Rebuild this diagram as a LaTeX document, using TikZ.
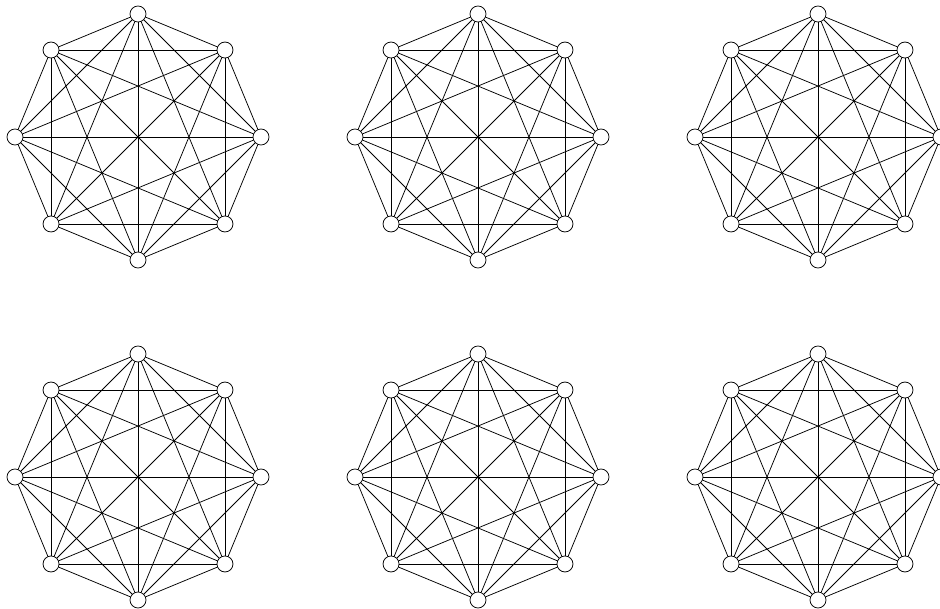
\documentclass[tikz,border=0pt]{standalone}
\begin{document}
\begin{tikzpicture}[x=1pt,y=-1pt,
  vtx/.style={circle,draw,fill=white,minimum size=16pt,inner sep=0pt,line width=0.75pt},
  edgeline/.style={line width=0.75pt}]
\useasboundingbox (0,0) rectangle (940,609);
\clip (0,0) rectangle (940,609);
\foreach \cx/\cy/\g in {138/137/a,478/137/b,818/137/c,138/477/d,478/477/e,818/477/f}{
  \foreach \i in {0,...,7}{
    \node[vtx] (\g\i) at ({\cx+123*cos(\i*45)},{\cy+123*sin(\i*45)}) {};
  }
  \foreach \i in {0,...,6}{
    \pgfmathtruncatemacro\s{\i+1}
    \foreach \j in {\s,...,7}{
      \draw[edgeline] (\g\i) -- (\g\j);
    }
  }
}
\end{tikzpicture}
\end{document}
